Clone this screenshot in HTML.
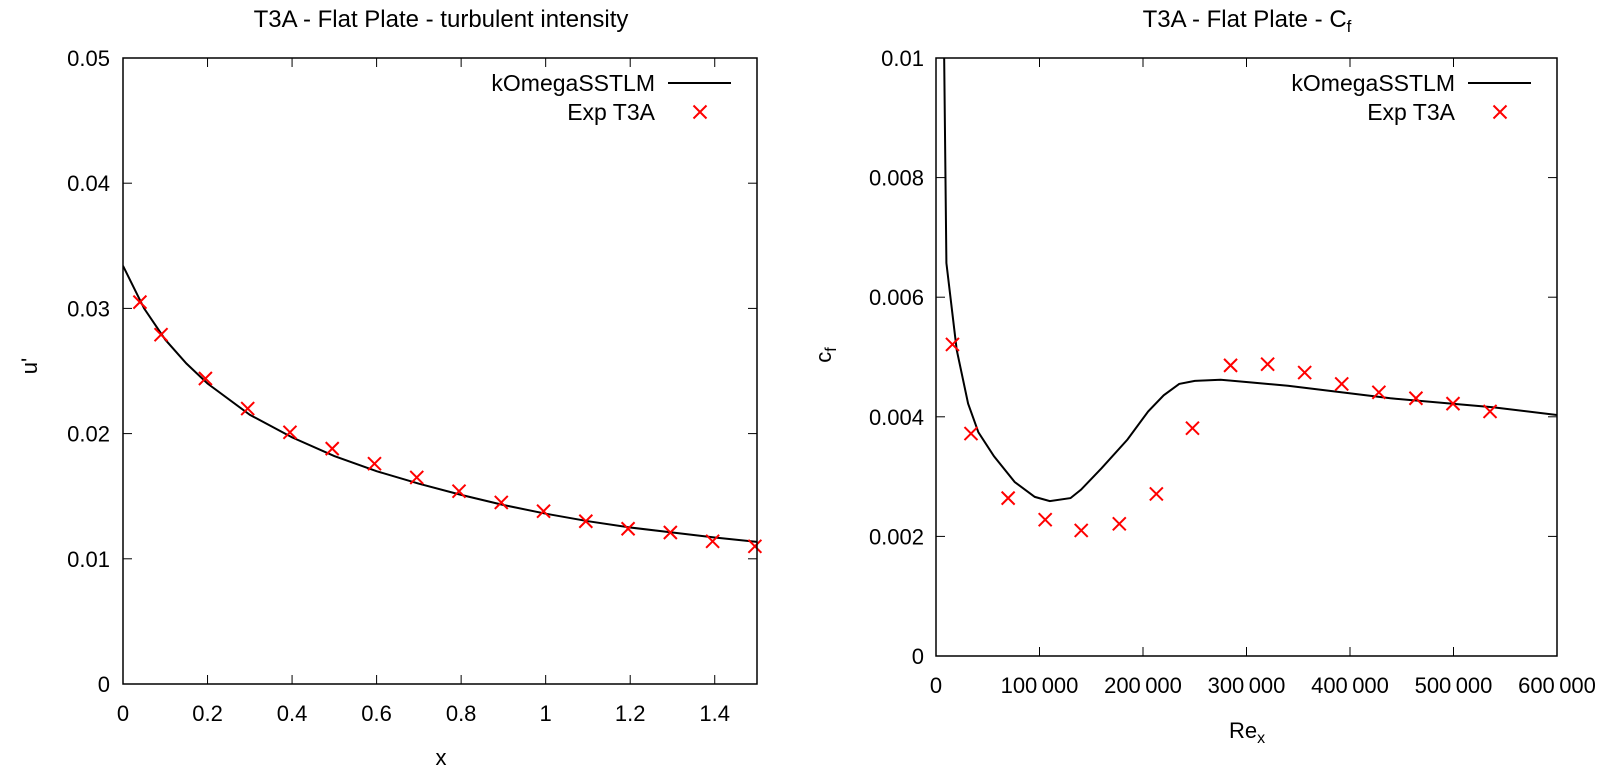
<!DOCTYPE html>
<html><head><meta charset="utf-8"><style>
body{margin:0;background:#fff}
svg{display:block;font-family:"Liberation Sans",sans-serif}
</style></head><body>
<svg id="c" width="1614" height="772" xmlns="http://www.w3.org/2000/svg">
<defs>
<clipPath id="clipL"><rect x="123" y="58" width="634" height="626"/></clipPath>
<clipPath id="clipR"><rect x="936" y="58" width="621" height="598"/></clipPath>
</defs>
<text x="441" y="27" font-size="24" text-anchor="middle">T3A - Flat Plate - turbulent intensity</text>
<text x="1247" y="27" font-size="24" text-anchor="middle">T3A - Flat Plate - C<tspan font-size="17" dy="5">f</tspan></text>
<text x="441" y="765" font-size="22" text-anchor="middle">x</text>
<text x="1247" y="738" font-size="22" text-anchor="middle">Re<tspan font-size="16" dy="5">x</tspan></text>
<text transform="translate(37,366) rotate(-90)" font-size="22" text-anchor="middle">u'</text>
<text transform="translate(831,355) rotate(-90)" font-size="22" text-anchor="middle">c<tspan font-size="16" dy="5">f</tspan></text>
</svg>
<script>
// Left chart data
const lineX = [0,0.05,0.1,0.15,0.2,0.3,0.4,0.5,0.6,0.7,0.8,0.9,1.0,1.1,1.2,1.3,1.4,1.5];
const lineU = [0.0334,0.0300,0.0275,0.0256,0.0240,0.0215,0.0197,0.0182,0.0170,0.0160,0.0151,0.0143,0.0136,0.0130,0.0125,0.0121,0.0117,0.01135];
const expX = [0.04,0.09,0.195,0.295,0.395,0.495,0.595,0.695,0.795,0.895,0.995,1.095,1.195,1.295,1.395,1.495];
const expU = [0.0305,0.0279,0.0244,0.0220,0.0201,0.0188,0.0176,0.0165,0.0154,0.0145,0.0138,0.0130,0.0124,0.0121,0.0114,0.0110];
const leftXTicks = [0,0.2,0.4,0.6,0.8,1.0,1.2,1.4];
const leftXLabels = ["0","0.2","0.4","0.6","0.8","1","1.2","1.4"];
const leftYTicks = [0,0.01,0.02,0.03,0.04,0.05];
const leftYLabels = ["0","0.01","0.02","0.03","0.04","0.05"];
// Right chart data
const lineRe = [7000,10000,20000,31000,41000,56000,76000,95500,110000,130000,140000,160000,185000,205000,220000,235000,250000,275000,340000,439000,538000,600000];
const lineCf = [0.0115,0.00657,0.00512,0.00422,0.00374,0.00334,0.00291,0.00266,0.00259,0.00264,0.00278,0.00314,0.00362,0.00409,0.00436,0.00455,0.0046,0.00462,0.00452,0.00431,0.00416,0.00403];
const expRe = [15900,33800,69700,105500,140300,177100,212900,247800,284600,320400,356200,392000,427900,463700,499500,535300];
const expCf = [0.00521,0.00372,0.00264,0.00228,0.0021,0.00221,0.00271,0.00381,0.00486,0.00488,0.00474,0.00455,0.00441,0.00431,0.00422,0.00409];
const rightXTicks = [0,100000,200000,300000,400000,500000,600000];
const rightXLabels = ["0","100\u2009000","200\u2009000","300\u2009000","400\u2009000","500\u2009000","600\u2009000"];
const rightYTicks = [0,0.002,0.004,0.006,0.008,0.01];
const rightYLabels = ["0","0.002","0.004","0.006","0.008","0.01"];

const svg = document.getElementById('c');
const NS = 'http://www.w3.org/2000/svg';
function mk(tag, attrs, parent, txt){
  const e = document.createElementNS(NS, tag);
  for (const k in attrs) e.setAttribute(k, attrs[k]);
  if (txt !== undefined) e.textContent = txt;
  (parent || svg).appendChild(e);
  return e;
}

function drawChart(o){
  const sx = v => o.x0 + (v - o.xmin) / (o.xmax - o.xmin) * (o.x1 - o.x0);
  const sy = v => o.y1 - (v - o.ymin) / (o.ymax - o.ymin) * (o.y1 - o.y0);
  const g = mk('g', {});
  
  
  o.xt.forEach((v, i) => {
    const x = sx(v);
    const t1 = mk('line', {x1:x, y1:o.y1, x2:x, y2:o.y1-9, stroke:'#000', 'stroke-width':1}, g);
    
    
    const t2 = mk('line', {x1:x, y1:o.y0, x2:x, y2:o.y0+9, stroke:'#000', 'stroke-width':1}, g);
    
    
    const l = mk('text', {x:x, y:o.xLabelY, 'font-size':22, 'text-anchor':'middle'}, g, o.xl[i]);
    
    
  });
  o.yt.forEach((v, i) => {
    const y = sy(v);
    const t1 = mk('line', {x1:o.x0, y1:y, x2:o.x0+9, y2:y, stroke:'#000', 'stroke-width':1}, g);
    
    
    const t2 = mk('line', {x1:o.x1, y1:y, x2:o.x1-9, y2:y, stroke:'#000', 'stroke-width':1}, g);
    
    
    const l = mk('text', {x:o.yLabelX, y:y+8, 'font-size':22, 'text-anchor':'end'}, g, o.yl[i]);
    
    
  });
  const d = o.lx.map((v, i) => (i ? 'L' : 'M') + sx(v).toFixed(1) + ' ' + sy(o.ly[i]).toFixed(1)).join(' ');
  const p = mk('path', {d:d, fill:'none', stroke:'#000', 'stroke-width':2, 'clip-path':'url(#'+o.clip+')'}, g);
  
  
  o.ex.forEach((v, i) => {
    const x = sx(v), y = sy(o.ey[i]);
    const m = mk('path', {d:`M${x-6.5} ${y-6.5}L${x+6.5} ${y+6.5}M${x-6.5} ${y+6.5}L${x+6.5} ${y-6.5}`, stroke:'#f00', 'stroke-width':2, fill:'none'}, g);
    
    
  });
  const b = mk('rect', {x:o.x0, y:o.y0, width:o.x1-o.x0, height:o.y1-o.y0, fill:'none', stroke:'#000', 'stroke-width':1.5}, g);
  
  
  const le = o.x1;
  const t1 = mk('text', {x:le-102, y:91, 'font-size':23, 'text-anchor':'end'}, g, 'kOmegaSSTLM');
  
  
  const ll = mk('line', {x1:le-89, y1:83, x2:le-26, y2:83, stroke:'#000', 'stroke-width':2}, g);
  
  
  const t2 = mk('text', {x:le-102, y:120, 'font-size':23, 'text-anchor':'end'}, g, 'Exp T3A');
  
  
  const mx = le-57, my = 112;
  const lm = mk('path', {d:`M${mx-6.5} ${my-6.5}L${mx+6.5} ${my+6.5}M${mx-6.5} ${my+6.5}L${mx+6.5} ${my-6.5}`, stroke:'#f00', 'stroke-width':2}, g);
  
  
}

drawChart({name:'turbulent-intensity-chart', x0:123, x1:757, y0:58, y1:684, xmin:0, xmax:1.5, ymin:0, ymax:0.05,
  xt:leftXTicks, xl:leftXLabels, yt:leftYTicks, yl:leftYLabels, xLabelY:721, yLabelX:110,
  lx:lineX, ly:lineU, ex:expX, ey:expU, clip:'clipL'});
drawChart({name:'cf-chart', x0:936, x1:1557, y0:58, y1:656, xmin:0, xmax:600000, ymin:0, ymax:0.01,
  xt:rightXTicks, xl:rightXLabels, yt:rightYTicks, yl:rightYLabels, xLabelY:693, yLabelX:924,
  lx:lineRe, ly:lineCf, ex:expRe, ey:expCf, clip:'clipR'});
</script>
</body></html>
